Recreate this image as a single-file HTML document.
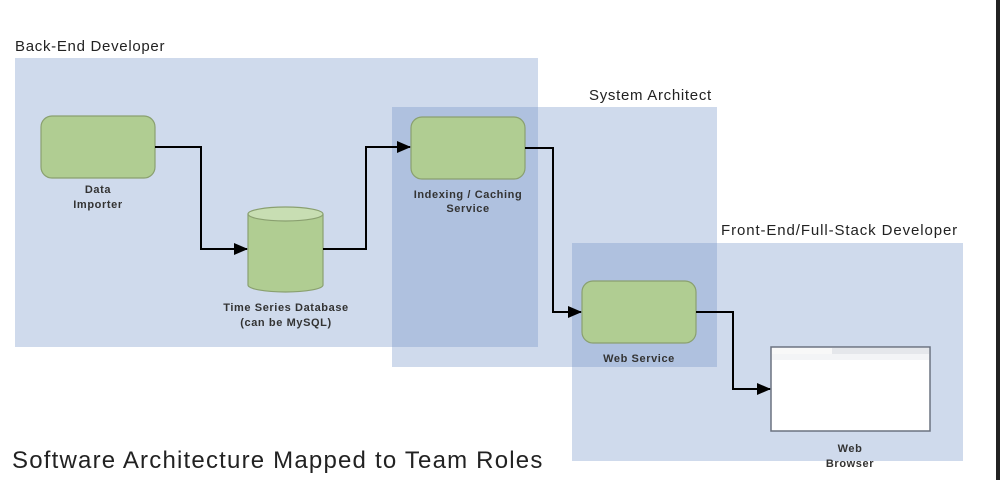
<!DOCTYPE html>
<html><head><meta charset="utf-8"><style>
html,body{margin:0;padding:0;width:1000px;height:480px;background:#fff;overflow:hidden}
svg text{font-family:"Liberation Sans",sans-serif;fill:#222}
</style></head><body>
<svg width="1000" height="480" viewBox="0 0 1000 480" xmlns="http://www.w3.org/2000/svg">
<defs>
<marker id="a" markerWidth="14" markerHeight="12" refX="13" refY="6" orient="auto" markerUnits="userSpaceOnUse">
<path d="M0,0 L14,6 L0,12 z" fill="#000"/></marker>
</defs>
<rect x="15" y="58" width="523" height="289" fill="rgb(111,144,198)" fill-opacity="0.333"/>
<rect x="392" y="107" width="325" height="260" fill="rgb(111,144,198)" fill-opacity="0.333"/>
<rect x="572" y="243" width="391" height="218" fill="rgb(111,144,198)" fill-opacity="0.333"/>
<rect x="996" y="0" width="4" height="480" fill="#222"/>
<text x="15" y="51" font-size="15" letter-spacing="0.7">Back-End Developer</text>
<text x="589" y="100" font-size="15" letter-spacing="0.7">System Architect</text>
<text x="721" y="235" font-size="15" letter-spacing="0.9">Front-End/Full-Stack Developer</text>
<!-- nodes -->
<rect x="41" y="116" width="114" height="62" rx="11" fill="#b0cd92" stroke="#8aa070" stroke-width="1.2"/>
<rect x="411" y="117" width="114" height="62" rx="11" fill="#b0cd92" stroke="#8aa070" stroke-width="1.2"/>
<rect x="582" y="281" width="114" height="62" rx="11" fill="#b0cd92" stroke="#8aa070" stroke-width="1.2"/>
<path d="M248,214 L248,285 A37.5,7 0 0 0 323,285 L323,214" fill="#b0cd92" stroke="#8aa070" stroke-width="1.2"/>
<ellipse cx="285.5" cy="214" rx="37.5" ry="7" fill="#c8deb3" stroke="#8aa070" stroke-width="1.2"/>
<!-- browser -->
<rect x="771" y="347" width="159" height="84" fill="#fff" stroke="#6b7280" stroke-width="1.5"/>
<rect x="772" y="348" width="157" height="6" fill="#e5e7eb"/>
<rect x="772" y="348" width="60" height="6" fill="#f8f8f8"/>
<rect x="772" y="354" width="157" height="6" fill="#f3f4f6"/>
<!-- connectors -->
<g fill="none" stroke="#000" stroke-width="2">
<path d="M155,147 H201 V249 H247" marker-end="url(#a)"/>
<path d="M323,249 H366 V147 H410" marker-end="url(#a)"/>
<path d="M525,148 H553 V312 H581" marker-end="url(#a)"/>
<path d="M696,312 H733 V389 H770" marker-end="url(#a)"/>
</g>
<g font-size="11" text-anchor="middle" letter-spacing="0.6" font-weight="bold" style="fill:#333">
<text x="98" y="193" style="fill:#333">Data</text>
<text x="98" y="208" style="fill:#333">Importer</text>
<text x="468" y="198" style="fill:#333">Indexing / Caching</text>
<text x="468" y="212" style="fill:#333">Service</text>
<text x="286" y="311" style="fill:#333">Time Series Database</text>
<text x="286" y="326" style="fill:#333">(can be MySQL)</text>
<text x="639" y="362" style="fill:#333">Web Service</text>
<text x="850" y="452" style="fill:#333">Web</text>
<text x="850" y="467" style="fill:#333">Browser</text>
</g>
<text x="12" y="468" font-size="24" letter-spacing="1.2">Software Architecture Mapped to Team Roles</text>
</svg>
</body></html>
